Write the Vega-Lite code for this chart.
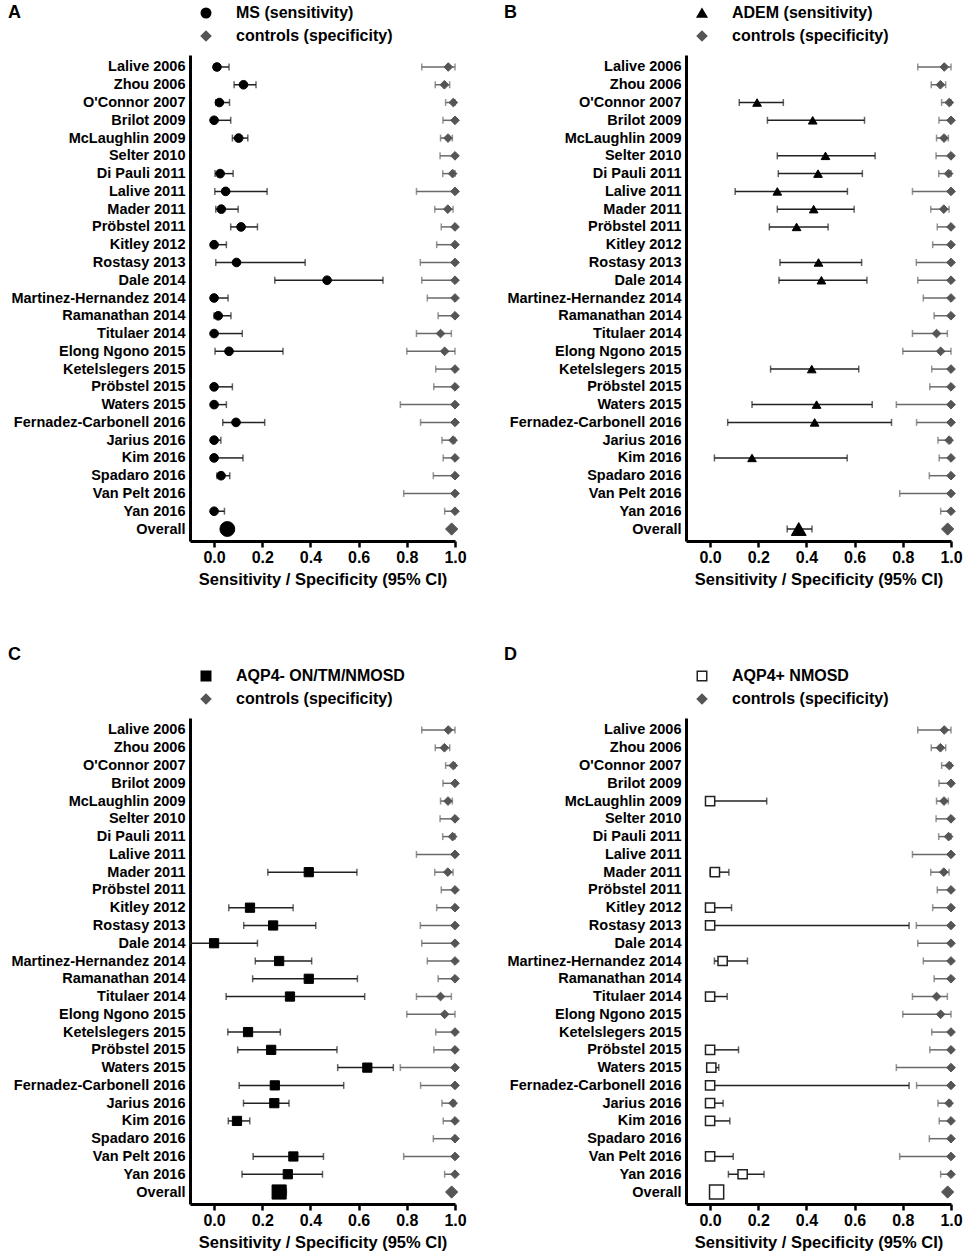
{
  "$schema": "https://vega.github.io/schema/vega-lite/v6.json",
  "padding": {"left": 8, "top": 4, "right": 0, "bottom": 0},
  "background": "white",
  "datasets": {
    "controls": [
      {"study": "Lalive 2006", "est": 0.972, "lo": 0.862, "hi": 1.0, "group": "controls (specificity)"},
      {"study": "Zhou 2006", "est": 0.956, "lo": 0.918, "hi": 0.978, "group": "controls (specificity)"},
      {"study": "O'Connor 2007", "est": 0.993, "lo": 0.961, "hi": 1.0, "group": "controls (specificity)"},
      {"study": "Brilot 2009", "est": 1.0, "lo": 0.95, "hi": 1.0, "group": "controls (specificity)"},
      {"study": "McLaughlin 2009", "est": 0.971, "lo": 0.94, "hi": 0.989, "group": "controls (specificity)"},
      {"study": "Selter 2010", "est": 1.0, "lo": 0.938, "hi": 1.0, "group": "controls (specificity)"},
      {"study": "Di Pauli 2011", "est": 0.99, "lo": 0.949, "hi": 1.0, "group": "controls (specificity)"},
      {"study": "Lalive 2011", "est": 1.0, "lo": 0.84, "hi": 1.0, "group": "controls (specificity)"},
      {"study": "Mader 2011", "est": 0.97, "lo": 0.916, "hi": 0.992, "group": "controls (specificity)"},
      {"study": "Pröbstel 2011", "est": 1.0, "lo": 0.943, "hi": 1.0, "group": "controls (specificity)"},
      {"study": "Kitley 2012", "est": 1.0, "lo": 0.924, "hi": 1.0, "group": "controls (specificity)"},
      {"study": "Rostasy 2013", "est": 1.0, "lo": 0.856, "hi": 1.0, "group": "controls (specificity)"},
      {"study": "Dale 2014", "est": 1.0, "lo": 0.862, "hi": 1.0, "group": "controls (specificity)"},
      {"study": "Martinez-Hernandez 2014", "est": 1.0, "lo": 0.885, "hi": 1.0, "group": "controls (specificity)"},
      {"study": "Ramanathan 2014", "est": 1.0, "lo": 0.93, "hi": 1.0, "group": "controls (specificity)"},
      {"study": "Titulaer 2014", "est": 0.94, "lo": 0.84, "hi": 0.985, "group": "controls (specificity)"},
      {"study": "Elong Ngono 2015", "est": 0.957, "lo": 0.8, "hi": 1.0, "group": "controls (specificity)"},
      {"study": "Ketelslegers 2015", "est": 1.0, "lo": 0.92, "hi": 1.0, "group": "controls (specificity)"},
      {"study": "Pröbstel 2015", "est": 1.0, "lo": 0.912, "hi": 1.0, "group": "controls (specificity)"},
      {"study": "Waters 2015", "est": 1.0, "lo": 0.773, "hi": 1.0, "group": "controls (specificity)"},
      {"study": "Fernadez-Carbonell 2016", "est": 1.0, "lo": 0.857, "hi": 1.0, "group": "controls (specificity)"},
      {"study": "Jarius 2016", "est": 0.992, "lo": 0.946, "hi": 1.0, "group": "controls (specificity)"},
      {"study": "Kim 2016", "est": 1.0, "lo": 0.951, "hi": 1.0, "group": "controls (specificity)"},
      {"study": "Spadaro 2016", "est": 1.0, "lo": 0.91, "hi": 1.0, "group": "controls (specificity)"},
      {"study": "Van Pelt 2016", "est": 1.0, "lo": 0.787, "hi": 1.0, "group": "controls (specificity)"},
      {"study": "Yan 2016", "est": 1.0, "lo": 0.957, "hi": 1.0, "group": "controls (specificity)"},
      {"study": "Overall", "est": 0.986, "lo": null, "hi": null, "group": "controls (specificity)"}
    ],
    "ms": [
      {"study": "Lalive 2006", "est": 0.012, "lo": 0.0, "hi": 0.062, "group": "MS (sensitivity)"},
      {"study": "Zhou 2006", "est": 0.122, "lo": 0.083, "hi": 0.174, "group": "MS (sensitivity)"},
      {"study": "O'Connor 2007", "est": 0.022, "lo": 0.007, "hi": 0.064, "group": "MS (sensitivity)"},
      {"study": "Brilot 2009", "est": 0.0, "lo": 0.0, "hi": 0.069, "group": "MS (sensitivity)"},
      {"study": "McLaughlin 2009", "est": 0.102, "lo": 0.076, "hi": 0.14, "group": "MS (sensitivity)"},
      {"study": "Di Pauli 2011", "est": 0.025, "lo": 0.004, "hi": 0.079, "group": "MS (sensitivity)"},
      {"study": "Lalive 2011", "est": 0.048, "lo": 0.003, "hi": 0.22, "group": "MS (sensitivity)"},
      {"study": "Mader 2011", "est": 0.03, "lo": 0.007, "hi": 0.1, "group": "MS (sensitivity)"},
      {"study": "Pröbstel 2011", "est": 0.112, "lo": 0.069, "hi": 0.18, "group": "MS (sensitivity)"},
      {"study": "Kitley 2012", "est": 0.0, "lo": 0.0, "hi": 0.051, "group": "MS (sensitivity)"},
      {"study": "Rostasy 2013", "est": 0.093, "lo": 0.007, "hi": 0.378, "group": "MS (sensitivity)"},
      {"study": "Dale 2014", "est": 0.469, "lo": 0.252, "hi": 0.701, "group": "MS (sensitivity)"},
      {"study": "Martinez-Hernandez 2014", "est": 0.0, "lo": 0.0, "hi": 0.058, "group": "MS (sensitivity)"},
      {"study": "Ramanathan 2014", "est": 0.017, "lo": 0.0, "hi": 0.07, "group": "MS (sensitivity)"},
      {"study": "Titulaer 2014", "est": 0.0, "lo": 0.0, "hi": 0.117, "group": "MS (sensitivity)"},
      {"study": "Elong Ngono 2015", "est": 0.062, "lo": 0.004, "hi": 0.286, "group": "MS (sensitivity)"},
      {"study": "Pröbstel 2015", "est": 0.0, "lo": 0.0, "hi": 0.076, "group": "MS (sensitivity)"},
      {"study": "Waters 2015", "est": 0.0, "lo": 0.0, "hi": 0.051, "group": "MS (sensitivity)"},
      {"study": "Fernadez-Carbonell 2016", "est": 0.091, "lo": 0.036, "hi": 0.21, "group": "MS (sensitivity)"},
      {"study": "Jarius 2016", "est": 0.0, "lo": 0.0, "hi": 0.028, "group": "MS (sensitivity)"},
      {"study": "Kim 2016", "est": 0.0, "lo": 0.0, "hi": 0.12, "group": "MS (sensitivity)"},
      {"study": "Spadaro 2016", "est": 0.029, "lo": 0.012, "hi": 0.065, "group": "MS (sensitivity)"},
      {"study": "Yan 2016", "est": 0.0, "lo": 0.0, "hi": 0.043, "group": "MS (sensitivity)"},
      {"study": "Overall", "est": 0.055, "lo": null, "hi": null, "group": "MS (sensitivity)"}
    ],
    "adem": [
      {"study": "O'Connor 2007", "est": 0.195, "lo": 0.121, "hi": 0.304, "group": "ADEM (sensitivity)"},
      {"study": "Brilot 2009", "est": 0.426, "lo": 0.238, "hi": 0.641, "group": "ADEM (sensitivity)"},
      {"study": "Selter 2010", "est": 0.479, "lo": 0.279, "hi": 0.685, "group": "ADEM (sensitivity)"},
      {"study": "Di Pauli 2011", "est": 0.448, "lo": 0.283, "hi": 0.632, "group": "ADEM (sensitivity)"},
      {"study": "Lalive 2011", "est": 0.279, "lo": 0.104, "hi": 0.57, "group": "ADEM (sensitivity)"},
      {"study": "Mader 2011", "est": 0.43, "lo": 0.279, "hi": 0.598, "group": "ADEM (sensitivity)"},
      {"study": "Pröbstel 2011", "est": 0.359, "lo": 0.246, "hi": 0.49, "group": "ADEM (sensitivity)"},
      {"study": "Rostasy 2013", "est": 0.45, "lo": 0.29, "hi": 0.629, "group": "ADEM (sensitivity)"},
      {"study": "Dale 2014", "est": 0.462, "lo": 0.286, "hi": 0.651, "group": "ADEM (sensitivity)"},
      {"study": "Ketelslegers 2015", "est": 0.422, "lo": 0.251, "hi": 0.617, "group": "ADEM (sensitivity)"},
      {"study": "Waters 2015", "est": 0.442, "lo": 0.174, "hi": 0.673, "group": "ADEM (sensitivity)"},
      {"study": "Fernadez-Carbonell 2016", "est": 0.434, "lo": 0.073, "hi": 0.753, "group": "ADEM (sensitivity)"},
      {"study": "Kim 2016", "est": 0.174, "lo": 0.018, "hi": 0.569, "group": "ADEM (sensitivity)"},
      {"study": "Overall", "est": 0.368, "lo": 0.32, "hi": 0.423, "group": "ADEM (sensitivity)"}
    ],
    "aqp4n": [
      {"study": "Mader 2011", "est": 0.393, "lo": 0.223, "hi": 0.593, "group": "AQP4- ON/TM/NMOSD"},
      {"study": "Kitley 2012", "est": 0.149, "lo": 0.061, "hi": 0.328, "group": "AQP4- ON/TM/NMOSD"},
      {"study": "Rostasy 2013", "est": 0.245, "lo": 0.123, "hi": 0.422, "group": "AQP4- ON/TM/NMOSD"},
      {"study": "Dale 2014", "est": 0.0, "lo": -0.1, "hi": 0.18, "group": "AQP4- ON/TM/NMOSD"},
      {"study": "Martinez-Hernandez 2014", "est": 0.27, "lo": 0.171, "hi": 0.405, "group": "AQP4- ON/TM/NMOSD"},
      {"study": "Ramanathan 2014", "est": 0.393, "lo": 0.16, "hi": 0.595, "group": "AQP4- ON/TM/NMOSD"},
      {"study": "Titulaer 2014", "est": 0.315, "lo": 0.05, "hi": 0.625, "group": "AQP4- ON/TM/NMOSD"},
      {"study": "Ketelslegers 2015", "est": 0.141, "lo": 0.057, "hi": 0.275, "group": "AQP4- ON/TM/NMOSD"},
      {"study": "Pröbstel 2015", "est": 0.237, "lo": 0.098, "hi": 0.51, "group": "AQP4- ON/TM/NMOSD"},
      {"study": "Waters 2015", "est": 0.636, "lo": 0.513, "hi": 0.744, "group": "AQP4- ON/TM/NMOSD"},
      {"study": "Fernadez-Carbonell 2016", "est": 0.252, "lo": 0.104, "hi": 0.538, "group": "AQP4- ON/TM/NMOSD"},
      {"study": "Jarius 2016", "est": 0.25, "lo": 0.122, "hi": 0.311, "group": "AQP4- ON/TM/NMOSD"},
      {"study": "Kim 2016", "est": 0.095, "lo": 0.059, "hi": 0.148, "group": "AQP4- ON/TM/NMOSD"},
      {"study": "Van Pelt 2016", "est": 0.329, "lo": 0.162, "hi": 0.454, "group": "AQP4- ON/TM/NMOSD"},
      {"study": "Yan 2016", "est": 0.306, "lo": 0.116, "hi": 0.45, "group": "AQP4- ON/TM/NMOSD"},
      {"study": "Overall", "est": 0.27, "lo": 0.245, "hi": 0.3, "group": "AQP4- ON/TM/NMOSD"}
    ],
    "aqp4p": [
      {"study": "McLaughlin 2009", "est": 0.0, "lo": 0.0, "hi": 0.235, "group": "AQP4+ NMOSD"},
      {"study": "Mader 2011", "est": 0.02, "lo": 0.0, "hi": 0.078, "group": "AQP4+ NMOSD"},
      {"study": "Kitley 2012", "est": 0.0, "lo": 0.0, "hi": 0.089, "group": "AQP4+ NMOSD"},
      {"study": "Rostasy 2013", "est": 0.0, "lo": 0.0, "hi": 0.826, "group": "AQP4+ NMOSD"},
      {"study": "Martinez-Hernandez 2014", "est": 0.052, "lo": 0.018, "hi": 0.155, "group": "AQP4+ NMOSD"},
      {"study": "Titulaer 2014", "est": 0.0, "lo": 0.0, "hi": 0.071, "group": "AQP4+ NMOSD"},
      {"study": "Pröbstel 2015", "est": 0.0, "lo": 0.0, "hi": 0.118, "group": "AQP4+ NMOSD"},
      {"study": "Waters 2015", "est": 0.005, "lo": 0.0, "hi": 0.036, "group": "AQP4+ NMOSD"},
      {"study": "Fernadez-Carbonell 2016", "est": 0.0, "lo": 0.0, "hi": 0.826, "group": "AQP4+ NMOSD"},
      {"study": "Jarius 2016", "est": 0.0, "lo": 0.0, "hi": 0.054, "group": "AQP4+ NMOSD"},
      {"study": "Kim 2016", "est": 0.0, "lo": 0.0, "hi": 0.082, "group": "AQP4+ NMOSD"},
      {"study": "Van Pelt 2016", "est": 0.0, "lo": 0.0, "hi": 0.096, "group": "AQP4+ NMOSD"},
      {"study": "Yan 2016", "est": 0.135, "lo": 0.076, "hi": 0.224, "group": "AQP4+ NMOSD"},
      {"study": "Overall", "est": 0.027, "lo": null, "hi": null, "group": "AQP4+ NMOSD"}
    ]
  },
  "config": {
    "font": "Liberation Sans",
    "view": {"stroke": null},
    "axis": {"domainColor": "black", "domainWidth": 3, "labelColor": "black", "labelFontWeight": "bold", "titleColor": "black", "titleFontWeight": "bold", "grid": false},
    "axisX": {"tickColor": "black", "tickWidth": 2.5, "tickSize": 6, "labelFontSize": 16, "titleFontSize": 16.5, "labelPadding": 2, "titlePadding": 6, "labelFlush": false},
    "axisY": {"ticks": false, "labelFontSize": 14.5, "labelPadding": 5, "labelLimit": 0},
    "legend": {"orient": "none", "legendX": 8, "legendY": -50, "padding": 0, "labelFontSize": 16, "labelFontWeight": "bold", "labelColor": "black", "labelOffset": 22, "labelLimit": 0, "rowPadding": 7, "symbolSize": 90, "symbolStrokeWidth": 1.5, "title": null},
    "title": {"fontSize": 18, "fontWeight": "bold", "anchor": "start", "frame": "group", "color": "black", "dx": -182}
  },
  "spacing": 58,
  "resolve": {"scale": {"shape": "independent", "fill": "independent", "stroke": "independent"}, "legend": {"shape": "independent", "fill": "independent", "stroke": "independent"}},
  "vconcat": [
    {
      "spacing": 37,
      "resolve": {"scale": {"shape": "independent", "fill": "independent", "stroke": "independent"}, "legend": {"shape": "independent", "fill": "independent", "stroke": "independent"}},
      "hconcat": [
        {
          "title": {"text": "A", "dy": 21},
          "width": 265, "height": 486,
          "encoding": {"y": {"field": "study", "type": "nominal", "title": null, "scale": {"type": "point", "padding": 0.675, "domain": ["Lalive 2006", "Zhou 2006", "O'Connor 2007", "Brilot 2009", "McLaughlin 2009", "Selter 2010", "Di Pauli 2011", "Lalive 2011", "Mader 2011", "Pröbstel 2011", "Kitley 2012", "Rostasy 2013", "Dale 2014", "Martinez-Hernandez 2014", "Ramanathan 2014", "Titulaer 2014", "Elong Ngono 2015", "Ketelslegers 2015", "Pröbstel 2015", "Waters 2015", "Fernadez-Carbonell 2016", "Jarius 2016", "Kim 2016", "Spadaro 2016", "Van Pelt 2016", "Yan 2016", "Overall"]}}},
          "layer": [
            {"data": {"name": "controls"}, "transform": [{"filter": "isValid(datum.lo)"}], "mark": {"type": "rule", "color": "#6a6a6a", "strokeWidth": 1.5},
             "encoding": {"x": {"field": "lo", "type": "quantitative", "title": "Sensitivity / Specificity (95% CI)", "scale": {"domain": [-0.1, 1], "nice": false, "zero": false}, "axis": {"values": [0, 0.2, 0.4, 0.6, 0.8, 1], "format": ".1f"}}, "x2": {"field": "hi"}}},
            {"data": {"name": "controls"}, "transform": [{"fold": ["lo", "hi"], "as": ["bound", "v"]}, {"filter": "isValid(datum.v)"}], "mark": {"type": "tick", "color": "#6a6a6a", "thickness": 1.5, "size": 7},
             "encoding": {"x": {"field": "v", "type": "quantitative", "title": "Sensitivity / Specificity (95% CI)"}}},
            {"data": {"name": "ms"}, "transform": [{"filter": "isValid(datum.lo)"}], "mark": {"type": "rule", "color": "#222222", "strokeWidth": 1.5},
             "encoding": {"x": {"field": "lo", "type": "quantitative", "title": "Sensitivity / Specificity (95% CI)"}, "x2": {"field": "hi"}}},
            {"data": {"name": "ms"}, "transform": [{"fold": ["lo", "hi"], "as": ["bound", "v"]}, {"filter": "isValid(datum.v)"}], "mark": {"type": "tick", "color": "#222222", "thickness": 1.5, "size": 7},
             "encoding": {"x": {"field": "v", "type": "quantitative", "title": "Sensitivity / Specificity (95% CI)"}}},
            {"data": {"name": "controls"}, "transform": [{"filter": "datum.study != 'Overall'"}], "mark": {"type": "point", "size": 75, "opacity": 1, "strokeWidth": 1},
             "encoding": {"x": {"field": "est", "type": "quantitative", "title": "Sensitivity / Specificity (95% CI)"},
               "shape": {"field": "group", "type": "nominal", "title": null, "scale": {"domain": ["MS (sensitivity)", "controls (specificity)"], "range": ["circle", "diamond"]}},
               "fill": {"field": "group", "type": "nominal", "title": null, "scale": {"domain": ["MS (sensitivity)", "controls (specificity)"], "range": ["#000000", "#555555"]}},
               "stroke": {"field": "group", "type": "nominal", "title": null, "scale": {"domain": ["MS (sensitivity)", "controls (specificity)"], "range": ["#000000", "#555555"]}}}},
            {"data": {"name": "ms"}, "transform": [{"filter": "datum.study != 'Overall'"}], "mark": {"type": "point", "size": 75, "opacity": 1, "strokeWidth": 1},
             "encoding": {"x": {"field": "est", "type": "quantitative", "title": "Sensitivity / Specificity (95% CI)"},
               "shape": {"field": "group", "type": "nominal", "title": null, "scale": {"domain": ["MS (sensitivity)", "controls (specificity)"], "range": ["circle", "diamond"]}},
               "fill": {"field": "group", "type": "nominal", "title": null, "scale": {"domain": ["MS (sensitivity)", "controls (specificity)"], "range": ["#000000", "#555555"]}},
               "stroke": {"field": "group", "type": "nominal", "title": null, "scale": {"domain": ["MS (sensitivity)", "controls (specificity)"], "range": ["#000000", "#555555"]}}}},
            {"data": {"name": "controls"}, "transform": [{"filter": "datum.study == 'Overall'"}], "mark": {"type": "point", "size": 150, "opacity": 1, "strokeWidth": 1},
             "encoding": {"x": {"field": "est", "type": "quantitative", "title": "Sensitivity / Specificity (95% CI)"},
               "shape": {"field": "group", "type": "nominal", "title": null, "scale": {"domain": ["MS (sensitivity)", "controls (specificity)"], "range": ["circle", "diamond"]}},
               "fill": {"field": "group", "type": "nominal", "title": null, "scale": {"domain": ["MS (sensitivity)", "controls (specificity)"], "range": ["#000000", "#555555"]}},
               "stroke": {"field": "group", "type": "nominal", "title": null, "scale": {"domain": ["MS (sensitivity)", "controls (specificity)"], "range": ["#000000", "#555555"]}}}},
            {"data": {"name": "ms"}, "transform": [{"filter": "datum.study == 'Overall'"}], "mark": {"type": "point", "size": 220, "opacity": 1, "strokeWidth": 1},
             "encoding": {"x": {"field": "est", "type": "quantitative", "title": "Sensitivity / Specificity (95% CI)"},
               "shape": {"field": "group", "type": "nominal", "title": null, "scale": {"domain": ["MS (sensitivity)", "controls (specificity)"], "range": ["circle", "diamond"]}},
               "fill": {"field": "group", "type": "nominal", "title": null, "scale": {"domain": ["MS (sensitivity)", "controls (specificity)"], "range": ["#000000", "#555555"]}},
               "stroke": {"field": "group", "type": "nominal", "title": null, "scale": {"domain": ["MS (sensitivity)", "controls (specificity)"], "range": ["#000000", "#555555"]}}}}
          ]
        },
        {
          "title": {"text": "B", "dy": 21},
          "width": 265, "height": 486,
          "encoding": {"y": {"field": "study", "type": "nominal", "title": null, "scale": {"type": "point", "padding": 0.675, "domain": ["Lalive 2006", "Zhou 2006", "O'Connor 2007", "Brilot 2009", "McLaughlin 2009", "Selter 2010", "Di Pauli 2011", "Lalive 2011", "Mader 2011", "Pröbstel 2011", "Kitley 2012", "Rostasy 2013", "Dale 2014", "Martinez-Hernandez 2014", "Ramanathan 2014", "Titulaer 2014", "Elong Ngono 2015", "Ketelslegers 2015", "Pröbstel 2015", "Waters 2015", "Fernadez-Carbonell 2016", "Jarius 2016", "Kim 2016", "Spadaro 2016", "Van Pelt 2016", "Yan 2016", "Overall"]}}},
          "layer": [
            {"data": {"name": "controls"}, "transform": [{"filter": "isValid(datum.lo)"}], "mark": {"type": "rule", "color": "#6a6a6a", "strokeWidth": 1.5},
             "encoding": {"x": {"field": "lo", "type": "quantitative", "title": "Sensitivity / Specificity (95% CI)", "scale": {"domain": [-0.1, 1], "nice": false, "zero": false}, "axis": {"values": [0, 0.2, 0.4, 0.6, 0.8, 1], "format": ".1f"}}, "x2": {"field": "hi"}}},
            {"data": {"name": "controls"}, "transform": [{"fold": ["lo", "hi"], "as": ["bound", "v"]}, {"filter": "isValid(datum.v)"}], "mark": {"type": "tick", "color": "#6a6a6a", "thickness": 1.5, "size": 7},
             "encoding": {"x": {"field": "v", "type": "quantitative", "title": "Sensitivity / Specificity (95% CI)"}}},
            {"data": {"name": "adem"}, "transform": [{"filter": "isValid(datum.lo)"}], "mark": {"type": "rule", "color": "#222222", "strokeWidth": 1.5},
             "encoding": {"x": {"field": "lo", "type": "quantitative", "title": "Sensitivity / Specificity (95% CI)"}, "x2": {"field": "hi"}}},
            {"data": {"name": "adem"}, "transform": [{"fold": ["lo", "hi"], "as": ["bound", "v"]}, {"filter": "isValid(datum.v)"}], "mark": {"type": "tick", "color": "#222222", "thickness": 1.5, "size": 7},
             "encoding": {"x": {"field": "v", "type": "quantitative", "title": "Sensitivity / Specificity (95% CI)"}}},
            {"data": {"name": "controls"}, "transform": [{"filter": "datum.study != 'Overall'"}], "mark": {"type": "point", "size": 75, "opacity": 1, "strokeWidth": 1},
             "encoding": {"x": {"field": "est", "type": "quantitative", "title": "Sensitivity / Specificity (95% CI)"},
               "shape": {"field": "group", "type": "nominal", "title": null, "scale": {"domain": ["ADEM (sensitivity)", "controls (specificity)"], "range": ["triangle-up", "diamond"]}},
               "fill": {"field": "group", "type": "nominal", "title": null, "scale": {"domain": ["ADEM (sensitivity)", "controls (specificity)"], "range": ["#000000", "#555555"]}},
               "stroke": {"field": "group", "type": "nominal", "title": null, "scale": {"domain": ["ADEM (sensitivity)", "controls (specificity)"], "range": ["#000000", "#555555"]}}}},
            {"data": {"name": "adem"}, "transform": [{"filter": "datum.study != 'Overall'"}], "mark": {"type": "point", "size": 75, "opacity": 1, "strokeWidth": 1},
             "encoding": {"x": {"field": "est", "type": "quantitative", "title": "Sensitivity / Specificity (95% CI)"},
               "shape": {"field": "group", "type": "nominal", "title": null, "scale": {"domain": ["ADEM (sensitivity)", "controls (specificity)"], "range": ["triangle-up", "diamond"]}},
               "fill": {"field": "group", "type": "nominal", "title": null, "scale": {"domain": ["ADEM (sensitivity)", "controls (specificity)"], "range": ["#000000", "#555555"]}},
               "stroke": {"field": "group", "type": "nominal", "title": null, "scale": {"domain": ["ADEM (sensitivity)", "controls (specificity)"], "range": ["#000000", "#555555"]}}}},
            {"data": {"name": "controls"}, "transform": [{"filter": "datum.study == 'Overall'"}], "mark": {"type": "point", "size": 150, "opacity": 1, "strokeWidth": 1},
             "encoding": {"x": {"field": "est", "type": "quantitative", "title": "Sensitivity / Specificity (95% CI)"},
               "shape": {"field": "group", "type": "nominal", "title": null, "scale": {"domain": ["ADEM (sensitivity)", "controls (specificity)"], "range": ["triangle-up", "diamond"]}},
               "fill": {"field": "group", "type": "nominal", "title": null, "scale": {"domain": ["ADEM (sensitivity)", "controls (specificity)"], "range": ["#000000", "#555555"]}},
               "stroke": {"field": "group", "type": "nominal", "title": null, "scale": {"domain": ["ADEM (sensitivity)", "controls (specificity)"], "range": ["#000000", "#555555"]}}}},
            {"data": {"name": "adem"}, "transform": [{"filter": "datum.study == 'Overall'"}], "mark": {"type": "point", "size": 220, "opacity": 1, "strokeWidth": 1},
             "encoding": {"x": {"field": "est", "type": "quantitative", "title": "Sensitivity / Specificity (95% CI)"},
               "shape": {"field": "group", "type": "nominal", "title": null, "scale": {"domain": ["ADEM (sensitivity)", "controls (specificity)"], "range": ["triangle-up", "diamond"]}},
               "fill": {"field": "group", "type": "nominal", "title": null, "scale": {"domain": ["ADEM (sensitivity)", "controls (specificity)"], "range": ["#000000", "#555555"]}},
               "stroke": {"field": "group", "type": "nominal", "title": null, "scale": {"domain": ["ADEM (sensitivity)", "controls (specificity)"], "range": ["#000000", "#555555"]}}}}
          ]
        }
      ]
    },
    {
      "spacing": 37,
      "resolve": {"scale": {"shape": "independent", "fill": "independent", "stroke": "independent"}, "legend": {"shape": "independent", "fill": "independent", "stroke": "independent"}},
      "hconcat": [
        {
          "title": {"text": "C"},
          "width": 265, "height": 486,
          "encoding": {"y": {"field": "study", "type": "nominal", "title": null, "scale": {"type": "point", "padding": 0.675, "domain": ["Lalive 2006", "Zhou 2006", "O'Connor 2007", "Brilot 2009", "McLaughlin 2009", "Selter 2010", "Di Pauli 2011", "Lalive 2011", "Mader 2011", "Pröbstel 2011", "Kitley 2012", "Rostasy 2013", "Dale 2014", "Martinez-Hernandez 2014", "Ramanathan 2014", "Titulaer 2014", "Elong Ngono 2015", "Ketelslegers 2015", "Pröbstel 2015", "Waters 2015", "Fernadez-Carbonell 2016", "Jarius 2016", "Kim 2016", "Spadaro 2016", "Van Pelt 2016", "Yan 2016", "Overall"]}}},
          "layer": [
            {"data": {"name": "controls"}, "transform": [{"filter": "isValid(datum.lo)"}], "mark": {"type": "rule", "color": "#6a6a6a", "strokeWidth": 1.5},
             "encoding": {"x": {"field": "lo", "type": "quantitative", "title": "Sensitivity / Specificity (95% CI)", "scale": {"domain": [-0.1, 1], "nice": false, "zero": false}, "axis": {"values": [0, 0.2, 0.4, 0.6, 0.8, 1], "format": ".1f"}}, "x2": {"field": "hi"}}},
            {"data": {"name": "controls"}, "transform": [{"fold": ["lo", "hi"], "as": ["bound", "v"]}, {"filter": "isValid(datum.v)"}], "mark": {"type": "tick", "color": "#6a6a6a", "thickness": 1.5, "size": 7},
             "encoding": {"x": {"field": "v", "type": "quantitative", "title": "Sensitivity / Specificity (95% CI)"}}},
            {"data": {"name": "aqp4n"}, "transform": [{"filter": "isValid(datum.lo)"}], "mark": {"type": "rule", "color": "#222222", "strokeWidth": 1.5},
             "encoding": {"x": {"field": "lo", "type": "quantitative", "title": "Sensitivity / Specificity (95% CI)"}, "x2": {"field": "hi"}}},
            {"data": {"name": "aqp4n"}, "transform": [{"fold": ["lo", "hi"], "as": ["bound", "v"]}, {"filter": "isValid(datum.v)"}], "mark": {"type": "tick", "color": "#222222", "thickness": 1.5, "size": 7},
             "encoding": {"x": {"field": "v", "type": "quantitative", "title": "Sensitivity / Specificity (95% CI)"}}},
            {"data": {"name": "controls"}, "transform": [{"filter": "datum.study != 'Overall'"}], "mark": {"type": "point", "size": 75, "opacity": 1, "strokeWidth": 1},
             "encoding": {"x": {"field": "est", "type": "quantitative", "title": "Sensitivity / Specificity (95% CI)"},
               "shape": {"field": "group", "type": "nominal", "title": null, "scale": {"domain": ["AQP4- ON/TM/NMOSD", "controls (specificity)"], "range": ["square", "diamond"]}},
               "fill": {"field": "group", "type": "nominal", "title": null, "scale": {"domain": ["AQP4- ON/TM/NMOSD", "controls (specificity)"], "range": ["#000000", "#555555"]}},
               "stroke": {"field": "group", "type": "nominal", "title": null, "scale": {"domain": ["AQP4- ON/TM/NMOSD", "controls (specificity)"], "range": ["#000000", "#555555"]}}}},
            {"data": {"name": "aqp4n"}, "transform": [{"filter": "datum.study != 'Overall'"}], "mark": {"type": "point", "size": 85, "opacity": 1, "strokeWidth": 1},
             "encoding": {"x": {"field": "est", "type": "quantitative", "title": "Sensitivity / Specificity (95% CI)"},
               "shape": {"field": "group", "type": "nominal", "title": null, "scale": {"domain": ["AQP4- ON/TM/NMOSD", "controls (specificity)"], "range": ["square", "diamond"]}},
               "fill": {"field": "group", "type": "nominal", "title": null, "scale": {"domain": ["AQP4- ON/TM/NMOSD", "controls (specificity)"], "range": ["#000000", "#555555"]}},
               "stroke": {"field": "group", "type": "nominal", "title": null, "scale": {"domain": ["AQP4- ON/TM/NMOSD", "controls (specificity)"], "range": ["#000000", "#555555"]}}}},
            {"data": {"name": "controls"}, "transform": [{"filter": "datum.study == 'Overall'"}], "mark": {"type": "point", "size": 150, "opacity": 1, "strokeWidth": 1},
             "encoding": {"x": {"field": "est", "type": "quantitative", "title": "Sensitivity / Specificity (95% CI)"},
               "shape": {"field": "group", "type": "nominal", "title": null, "scale": {"domain": ["AQP4- ON/TM/NMOSD", "controls (specificity)"], "range": ["square", "diamond"]}},
               "fill": {"field": "group", "type": "nominal", "title": null, "scale": {"domain": ["AQP4- ON/TM/NMOSD", "controls (specificity)"], "range": ["#000000", "#555555"]}},
               "stroke": {"field": "group", "type": "nominal", "title": null, "scale": {"domain": ["AQP4- ON/TM/NMOSD", "controls (specificity)"], "range": ["#000000", "#555555"]}}}},
            {"data": {"name": "aqp4n"}, "transform": [{"filter": "datum.study == 'Overall'"}], "mark": {"type": "point", "size": 200, "opacity": 1, "strokeWidth": 1},
             "encoding": {"x": {"field": "est", "type": "quantitative", "title": "Sensitivity / Specificity (95% CI)"},
               "shape": {"field": "group", "type": "nominal", "title": null, "scale": {"domain": ["AQP4- ON/TM/NMOSD", "controls (specificity)"], "range": ["square", "diamond"]}},
               "fill": {"field": "group", "type": "nominal", "title": null, "scale": {"domain": ["AQP4- ON/TM/NMOSD", "controls (specificity)"], "range": ["#000000", "#555555"]}},
               "stroke": {"field": "group", "type": "nominal", "title": null, "scale": {"domain": ["AQP4- ON/TM/NMOSD", "controls (specificity)"], "range": ["#000000", "#555555"]}}}}
          ]
        },
        {
          "title": {"text": "D"},
          "width": 265, "height": 486,
          "encoding": {"y": {"field": "study", "type": "nominal", "title": null, "scale": {"type": "point", "padding": 0.675, "domain": ["Lalive 2006", "Zhou 2006", "O'Connor 2007", "Brilot 2009", "McLaughlin 2009", "Selter 2010", "Di Pauli 2011", "Lalive 2011", "Mader 2011", "Pröbstel 2011", "Kitley 2012", "Rostasy 2013", "Dale 2014", "Martinez-Hernandez 2014", "Ramanathan 2014", "Titulaer 2014", "Elong Ngono 2015", "Ketelslegers 2015", "Pröbstel 2015", "Waters 2015", "Fernadez-Carbonell 2016", "Jarius 2016", "Kim 2016", "Spadaro 2016", "Van Pelt 2016", "Yan 2016", "Overall"]}}},
          "layer": [
            {"data": {"name": "controls"}, "transform": [{"filter": "isValid(datum.lo)"}], "mark": {"type": "rule", "color": "#6a6a6a", "strokeWidth": 1.5},
             "encoding": {"x": {"field": "lo", "type": "quantitative", "title": "Sensitivity / Specificity (95% CI)", "scale": {"domain": [-0.1, 1], "nice": false, "zero": false}, "axis": {"values": [0, 0.2, 0.4, 0.6, 0.8, 1], "format": ".1f"}}, "x2": {"field": "hi"}}},
            {"data": {"name": "controls"}, "transform": [{"fold": ["lo", "hi"], "as": ["bound", "v"]}, {"filter": "isValid(datum.v)"}], "mark": {"type": "tick", "color": "#6a6a6a", "thickness": 1.5, "size": 7},
             "encoding": {"x": {"field": "v", "type": "quantitative", "title": "Sensitivity / Specificity (95% CI)"}}},
            {"data": {"name": "aqp4p"}, "transform": [{"filter": "isValid(datum.lo)"}], "mark": {"type": "rule", "color": "#222222", "strokeWidth": 1.5},
             "encoding": {"x": {"field": "lo", "type": "quantitative", "title": "Sensitivity / Specificity (95% CI)"}, "x2": {"field": "hi"}}},
            {"data": {"name": "aqp4p"}, "transform": [{"fold": ["lo", "hi"], "as": ["bound", "v"]}, {"filter": "isValid(datum.v)"}], "mark": {"type": "tick", "color": "#222222", "thickness": 1.5, "size": 7},
             "encoding": {"x": {"field": "v", "type": "quantitative", "title": "Sensitivity / Specificity (95% CI)"}}},
            {"data": {"name": "controls"}, "transform": [{"filter": "datum.study != 'Overall'"}], "mark": {"type": "point", "size": 75, "opacity": 1, "strokeWidth": 1},
             "encoding": {"x": {"field": "est", "type": "quantitative", "title": "Sensitivity / Specificity (95% CI)"},
               "shape": {"field": "group", "type": "nominal", "title": null, "scale": {"domain": ["AQP4+ NMOSD", "controls (specificity)"], "range": ["square", "diamond"]}},
               "fill": {"field": "group", "type": "nominal", "title": null, "scale": {"domain": ["AQP4+ NMOSD", "controls (specificity)"], "range": ["#ffffff", "#555555"]}},
               "stroke": {"field": "group", "type": "nominal", "title": null, "scale": {"domain": ["AQP4+ NMOSD", "controls (specificity)"], "range": ["#222222", "#555555"]}}}},
            {"data": {"name": "aqp4p"}, "transform": [{"filter": "datum.study != 'Overall'"}], "mark": {"type": "point", "size": 85, "opacity": 1, "strokeWidth": 1.5},
             "encoding": {"x": {"field": "est", "type": "quantitative", "title": "Sensitivity / Specificity (95% CI)"},
               "shape": {"field": "group", "type": "nominal", "title": null, "scale": {"domain": ["AQP4+ NMOSD", "controls (specificity)"], "range": ["square", "diamond"]}},
               "fill": {"field": "group", "type": "nominal", "title": null, "scale": {"domain": ["AQP4+ NMOSD", "controls (specificity)"], "range": ["#ffffff", "#555555"]}},
               "stroke": {"field": "group", "type": "nominal", "title": null, "scale": {"domain": ["AQP4+ NMOSD", "controls (specificity)"], "range": ["#222222", "#555555"]}}}},
            {"data": {"name": "controls"}, "transform": [{"filter": "datum.study == 'Overall'"}], "mark": {"type": "point", "size": 150, "opacity": 1, "strokeWidth": 1},
             "encoding": {"x": {"field": "est", "type": "quantitative", "title": "Sensitivity / Specificity (95% CI)"},
               "shape": {"field": "group", "type": "nominal", "title": null, "scale": {"domain": ["AQP4+ NMOSD", "controls (specificity)"], "range": ["square", "diamond"]}},
               "fill": {"field": "group", "type": "nominal", "title": null, "scale": {"domain": ["AQP4+ NMOSD", "controls (specificity)"], "range": ["#ffffff", "#555555"]}},
               "stroke": {"field": "group", "type": "nominal", "title": null, "scale": {"domain": ["AQP4+ NMOSD", "controls (specificity)"], "range": ["#222222", "#555555"]}}}},
            {"data": {"name": "aqp4p"}, "transform": [{"filter": "datum.study == 'Overall'"}], "mark": {"type": "point", "size": 200, "opacity": 1, "strokeWidth": 1.5},
             "encoding": {"x": {"field": "est", "type": "quantitative", "title": "Sensitivity / Specificity (95% CI)"},
               "shape": {"field": "group", "type": "nominal", "title": null, "scale": {"domain": ["AQP4+ NMOSD", "controls (specificity)"], "range": ["square", "diamond"]}},
               "fill": {"field": "group", "type": "nominal", "title": null, "scale": {"domain": ["AQP4+ NMOSD", "controls (specificity)"], "range": ["#ffffff", "#555555"]}},
               "stroke": {"field": "group", "type": "nominal", "title": null, "scale": {"domain": ["AQP4+ NMOSD", "controls (specificity)"], "range": ["#222222", "#555555"]}}}}
          ]
        }
      ]
    }
  ]
}
